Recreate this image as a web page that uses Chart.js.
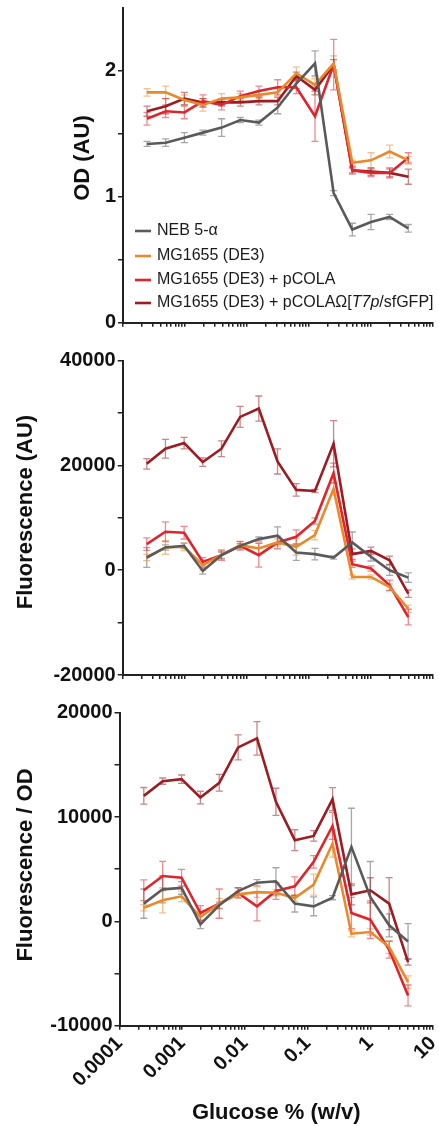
<!DOCTYPE html>
<html>
<head>
<meta charset="utf-8">
<script src="https://cdn.jsdelivr.net/npm/chart.js@4.4.1/dist/chart.umd.min.js"></script>
<style>
  body { margin: 0; background: #fff; width: 439px; height: 1126px; position: relative; overflow: hidden; }
  canvas { position: absolute; left: 0; }
</style>
</head>
<body>
<canvas id="odChart" width="439" height="335" style="top:0px"></canvas>
<canvas id="flChart" width="439" height="345" style="top:340px"></canvas>
<canvas id="foChart" width="439" height="441" style="top:685px"></canvas>
<script>
// glucose % (w/v), two-fold dilution series
const glucose = [0.000244, 0.000488, 0.000977, 0.00195, 0.0039, 0.0078, 0.0156, 0.03125, 0.0625, 0.125, 0.25, 0.5, 1, 2, 4];

const strains = ['NEB 5-α', 'MG1655 (DE3)', 'MG1655 (DE3) + pCOLA', 'MG1655 (DE3) + pCOLAΩ[T7p/sfGFP]'];
const colors = ['#5a5a5a', '#e8892c', '#e0242b', '#9c1c21'];

// OD
const od_neb = [1.42, 1.43, 1.47, 1.51, 1.55, 1.61, 1.59, 1.71, 1.90, 2.06, 1.03, 0.74, 0.80, 0.84, 0.75];
const od_neb_err = [0.02, 0.03, 0.04, 0.02, 0.07, 0.02, 0.02, 0.05, 0.04, 0.10, 0.02, 0.05, 0.06, 0.02, 0.03];
const od_mg = [1.83, 1.83, 1.77, 1.73, 1.78, 1.79, 1.81, 1.83, 1.98, 1.89, 2.06, 1.27, 1.29, 1.36, 1.29];
const od_mg_err = [0.03, 0.05, 0.04, 0.05, 0.04, 0.03, 0.03, 0.03, 0.05, 0.05, 0.06, 0.02, 0.06, 0.05, 0.03];
const od_cola = [1.62, 1.68, 1.67, 1.76, 1.73, 1.80, 1.84, 1.87, 1.87, 1.64, 2.05, 1.21, 1.19, 1.19, 1.31];
const od_cola_err = [0.05, 0.05, 0.05, 0.05, 0.04, 0.04, 0.04, 0.06, 0.05, 0.20, 0.20, 0.03, 0.03, 0.03, 0.04];
const od_gfp = [1.68, 1.72, 1.78, 1.75, 1.75, 1.75, 1.76, 1.76, 1.96, 1.85, 2.05, 1.21, 1.20, 1.19, 1.16];
const od_gfp_err = [0.04, 0.06, 0.05, 0.03, 0.03, 0.03, 0.03, 0.03, 0.03, 0.04, 0.04, 0.02, 0.03, 0.04, 0.06];

// Fluorescence
const fl_neb = [2430, 4350, 4660, -130, 2880, 4660, 5940, 6580, 3390, 3070, 2430, 5300, 2560, 0, -1410];
const fl_neb_err = [1900, 500, 500, 600, 600, 400, 400, 1700, 1500, 1100, 300, 2000, 800, 1000, 900];
const fl_mg = [2430, 4350, 4470, 960, 2880, 4790, 4150, 5300, 4470, 6710, 15530, -1280, -1280, -3200, -7350];
const fl_mg_err = [600, 1300, 700, 1000, 800, 700, 1000, 700, 1600, 900, 1200, 400, 400, 600, 700];
const fl_cola = [4980, 7350, 7160, 1600, 2880, 4660, 2880, 5300, 6390, 9390, 18530, 1150, 320, -2880, -8950];
const fl_cola_err = [1200, 1900, 1200, 800, 1000, 800, 2300, 1200, 1300, 600, 1900, 600, 500, 1000, 1500];
const fl_gfp = [20320, 23200, 24280, 20640, 23200, 29270, 30860, 20770, 15340, 15140, 24150, 3070, 3700, 1900, -4470];
const fl_gfp_err = [1000, 1800, 1100, 800, 1500, 2000, 2400, 2400, 1200, 300, 4400, 1000, 700, 800, 700];

// Fluorescence / OD
const fo_neb = [1700, 3070, 3200, -290, 1540, 2910, 3710, 3840, 1700, 1440, 2270, 7140, 2340, -380, -1920];
const fo_neb_err = [1400, 1300, 600, 400, 300, 300, 300, 1300, 800, 900, 200, 3700, 3400, 1100, 1700];
const fo_mg = [1310, 2020, 2400, 420, 1700, 2590, 2800, 2750, 2240, 3520, 7460, -1180, -1020, -2460, -5820];
const fo_mg_err = [300, 1200, 500, 500, 500, 300, 500, 300, 300, 1000, 1300, 300, 300, 600, 600];
const fo_cola = [2980, 4350, 4190, 800, 1700, 2720, 1440, 2910, 3360, 5700, 9150, 800, 160, -2720, -7100];
const fo_cola_err = [1000, 1400, 800, 700, 1400, 500, 1400, 800, 900, 600, 1300, 1500, 1800, 800, 1000];
const fo_gfp = [12030, 13440, 13630, 11870, 13280, 16670, 17540, 11460, 7780, 8190, 11710, 2590, 2980, 1700, -3900];
const fo_gfp_err = [800, 300, 400, 600, 800, 1200, 1600, 1300, 1000, 500, 1100, 1000, 1200, 2500, 300];

// tick values + labels
const odTicks = [0, 0.5, 1, 1.5, 2];
const odTickLabels = ['0', '', '1', '', '2'];
const flTicks = [-20000, -10000, 0, 10000, 20000, 30000, 40000];
const flTickLabels = ['-20000', '', '0', '', '20000', '', '40000'];
const foTicks = [-10000, -5000, 0, 5000, 10000, 15000, 20000];
const foTickLabels = ['-10000', '', '0', '', '10000', '', '20000'];
const xDecades = [0.0001, 0.001, 0.01, 0.1, 1, 10];
const xDecadeLabels = ['0.0001', '0.001', '0.01', '0.1', '1', '10'];
const xMinor = [2, 3, 4, 5, 6, 7, 8, 9];

let xTicks = [];
xDecades.forEach((d, i) => {
  xTicks.push(d);
  if (i < xDecades.length - 1) xMinor.forEach(m => xTicks.push(Number((d * m).toPrecision(6))));
});

Chart.defaults.font.family = "'Liberation Sans', Arial, sans-serif";
Chart.defaults.color = '#111';

// error bars
const errorBars = {
  id: 'errorBars',
  beforeDatasetsDraw(chart) {
    const ctx = chart.ctx;
    const yScale = chart.scales.y;
    chart.data.datasets.forEach((ds, di) => {
      const meta = chart.getDatasetMeta(di);
      ctx.save();
      ctx.strokeStyle = ds.errColor;
      ctx.lineWidth = 1.3;
      meta.data.forEach((pt, i) => {
        const e = ds.errors[i];
        const v = ds.data[i].y;
        const y1 = yScale.getPixelForValue(v + e);
        const y2 = yScale.getPixelForValue(v - e);
        ctx.beginPath();
        ctx.moveTo(pt.x, y1); ctx.lineTo(pt.x, y2);
        ctx.moveTo(pt.x - 3.5, y1); ctx.lineTo(pt.x + 3.5, y1);
        ctx.moveTo(pt.x - 3.5, y2); ctx.lineTo(pt.x + 3.5, y2);
        ctx.stroke();
      });
      ctx.restore();
    });
  }
};

// rotated y title at fixed spot
const sideTitle = {
  id: 'sideTitle',
  afterDraw(chart, args, opts) {
    if (!opts.text) return;
    const ctx = chart.ctx;
    ctx.save();
    ctx.translate(opts.x, opts.y);
    ctx.rotate(-Math.PI / 2);
    ctx.font = "bold 22px 'Liberation Sans', Arial, sans-serif";
    ctx.fillStyle = '#111';
    ctx.textAlign = 'center';
    ctx.textBaseline = 'middle';
    ctx.fillText(opts.text, 0, 0);
    ctx.restore();
  }
};

// legend inside the OD panel
const strainLegend = {
  id: 'strainLegend',
  afterDraw(chart, args, opts) {
    if (!opts.show) return;
    const ctx = chart.ctx;
    const rows = [231, 256, 280, 303];
    ctx.save();
    ctx.textBaseline = 'middle';
    ctx.fillStyle = '#1a1a1a';
    strains.forEach((name, i) => {
      ctx.strokeStyle = colors[i];
      ctx.lineWidth = 2.6;
      ctx.beginPath();
      ctx.moveTo(135, rows[i]); ctx.lineTo(151, rows[i]);
      ctx.stroke();
      const reg = "16px 'Liberation Sans', Arial, sans-serif";
      const ita = "italic 16px 'Liberation Sans', Arial, sans-serif";
      let x = 157;
      if (i < 3) {
        ctx.font = reg;
        ctx.fillText(name, x, rows[i]);
      } else {
        const parts = [['MG1655 (DE3) + pCOLAΩ[', reg], ['T7p', ita], ['/sfGFP]', reg]];
        parts.forEach(p => {
          ctx.font = p[1];
          ctx.fillText(p[0], x, rows[i]);
          x += ctx.measureText(p[0]).width;
        });
      }
    });
    ctx.restore();
  }
};

function makePanel(id, series, errs, yTicks, yLabels, opt) {
  const datasets = series.map((vals, k) => ({
    label: strains[k],
    data: glucose.map((g, i) => ({ x: g, y: vals[i] })),
    errors: errs[k],
    borderColor: colors[k],
    errColor: colors[k] + '88',
    borderWidth: 2.6,
    pointRadius: 0,
    tension: 0,
    fill: false
  }));

  return new Chart(document.getElementById(id), {
    type: 'line',
    data: { datasets },
    plugins: [errorBars, sideTitle, strainLegend],
    options: {
      responsive: false,
      animation: false,
      layout: { padding: { top: opt.padTop, right: 6, left: 0, bottom: 0 } },
      plugins: {
        legend: { display: false },
        tooltip: { enabled: false },
        sideTitle: opt.title,
        strainLegend: { show: !!opt.legend }
      },
      scales: {
        x: {
          type: 'logarithmic',
          min: 0.0001,
          max: 10,
          border: { color: '#222', width: 2 },
          grid: { drawOnChartArea: false, color: '#222', lineWidth: 1.5, tickLength: 4 },
          afterBuildTicks: s => { s.ticks = xTicks.map(v => ({ value: v })); },
          afterFit: s => { s.height = opt.xHeight; s.paddingLeft = 0; s.paddingRight = 0; },
          ticks: {
            display: !!opt.xLabels,
            autoSkip: false,
            minRotation: 45,
            maxRotation: 45,
            padding: 2,
            font: { size: 20, weight: 'bold' },
            color: '#111',
            callback: v => {
              const l = Math.log10(v);
              return Math.abs(l - Math.round(l)) < 1e-6 ? xDecadeLabels[Math.round(l) + 4] : '';
            }
          },
          title: {
            display: !!opt.xLabels,
            text: 'Glucose % (w/v)',
            font: { size: 22, weight: 'bold' },
            color: '#111',
            padding: { top: 0, bottom: 0 }
          }
        },
        y: {
          min: yTicks[0],
          max: opt.yMax,
          border: { color: '#222', width: 2 },
          grid: { drawOnChartArea: false, color: '#222', lineWidth: 1.5, tickLength: 5 },
          afterBuildTicks: s => { s.ticks = yTicks.map(v => ({ value: v })); },
          afterFit: s => { s.width = opt.yWidth; s.paddingTop = 0; s.paddingBottom = 0; },
          ticks: {
            autoSkip: false,
            padding: 2,
            font: { size: 20, weight: 'bold' },
            color: '#111',
            callback: (v, i) => yLabels[i]
          }
        }
      }
    }
  });
}

makePanel('odChart',
  [od_neb, od_mg, od_cola, od_gfp],
  [od_neb_err, od_mg_err, od_cola_err, od_gfp_err],
  odTicks, odTickLabels,
  { padTop: 8, yMax: 2.5, yWidth: 123, xHeight: 12.3, legend: true,
    title: { text: 'OD (AU)', x: 83, y: 158 } });

makePanel('flChart',
  [fl_neb, fl_mg, fl_cola, fl_gfp],
  [fl_neb_err, fl_mg_err, fl_cola_err, fl_gfp_err],
  flTicks, flTickLabels,
  { padTop: 20.7, yMax: 40000, yWidth: 122.7, xHeight: 10,
    title: { text: 'Fluorescence (AU)', x: 26, y: 172 } });

makePanel('foChart',
  [fo_neb, fo_mg, fo_cola, fo_gfp],
  [fo_neb_err, fo_mg_err, fo_cola_err, fo_gfp_err],
  foTicks, foTickLabels,
  { padTop: 27.7, yMax: 20000, yWidth: 119.5, xHeight: 100.3, xLabels: true,
    title: { text: 'Fluorescence / OD', x: 26, y: 180 } });
</script>
</body>
</html>
